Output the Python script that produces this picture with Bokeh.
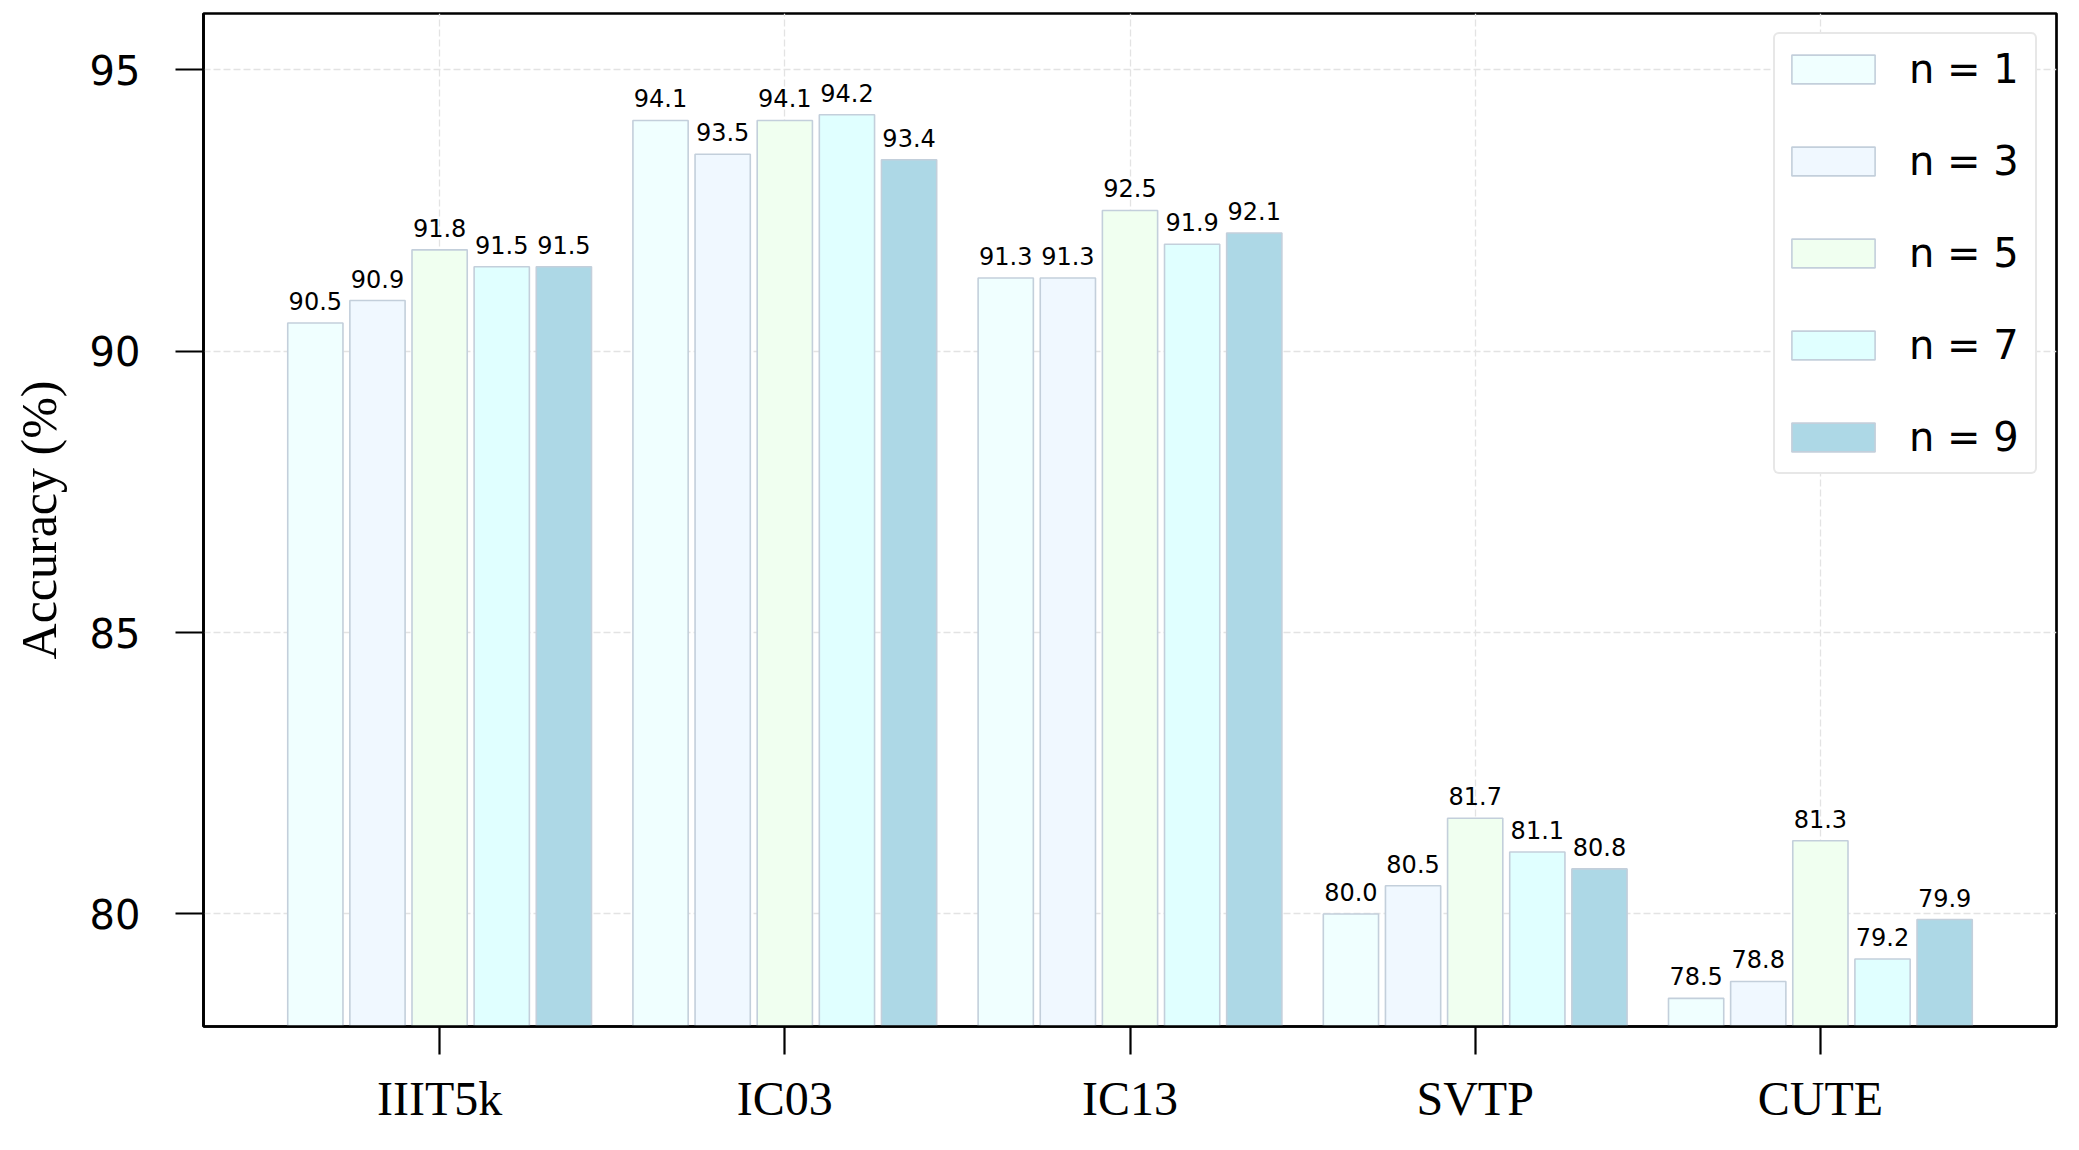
from bokeh.plotting import figure
from bokeh.models import ColumnDataSource, Range1d, FixedTicker, Legend, LegendItem
from bokeh.transform import dodge
from bokeh.core.properties import value
from bokeh.embed import file_html
from bokeh.resources import INLINE

datasets = ["IIIT5k", "IC03", "IC13", "SVTP", "CUTE"]
series_names = ["n = 1", "n = 3", "n = 5", "n = 7", "n = 9"]
n1 = [90.5, 94.1, 91.3, 80.0, 78.5]
n3 = [90.9, 93.5, 91.3, 80.5, 78.8]
n5 = [91.8, 94.1, 92.5, 81.7, 81.3]
n7 = [91.5, 94.2, 91.9, 81.1, 79.2]
n9 = [91.5, 93.4, 92.1, 80.8, 79.9]
y_ticks = [80, 85, 90, 95]

series = [n1, n3, n5, n7, n9]
colors = ["#F0FFFF", "#F0F8FF", "#F0FFF0", "#E0FFFF", "#ADD8E6"]
offsets = [-0.36, -0.18, 0.0, 0.18, 0.36]
bar_w = 0.16

data = {"idx": list(range(len(datasets)))}
for k, s in enumerate(series):
    data[f"s{k}"] = s
    data[f"l{k}"] = [f"{v:.1f}" for v in s]
source = ColumnDataSource(data)

p = figure(width=2063, height=1134, output_backend="svg", toolbar_location=None,
           x_range=Range1d(-0.684, 4.684), y_range=Range1d(78, 96),
           min_border_left=203, min_border_right=7, min_border_top=13, min_border_bottom=108)

items = []
for k, s in enumerate(series):
    r = p.vbar(x=dodge("idx", offsets[k], range=p.x_range), top=f"s{k}", bottom=0, width=bar_w,
               source=source, fill_color=colors[k], line_color="#C3CFDB", line_width=1.6)
    items.append(LegendItem(label=series_names[k], renderers=[r]))
    p.text(x=dodge("idx", offsets[k], range=p.x_range), y=f"s{k}", text=f"l{k}", source=source,
           text_align="center", text_baseline="bottom", y_offset=-13,
           text_font=value("DejaVu Sans"), text_font_size="24px", text_color="black")

# axes
p.xaxis.ticker = FixedTicker(ticks=list(range(len(datasets))))
p.xaxis.major_label_overrides = {i: d for i, d in enumerate(datasets)}
p.yaxis.ticker = FixedTicker(ticks=y_ticks)
p.yaxis.axis_label = "Accuracy (%)"
p.yaxis.axis_label_text_font = "Liberation Serif"
p.yaxis.axis_label_text_font_size = "50px"
p.yaxis.axis_label_text_font_style = "normal"
p.yaxis.axis_label_text_color = "black"
p.yaxis.axis_label_standoff = 20
p.yaxis.major_label_text_font = "DejaVu Sans"
p.yaxis.major_label_text_font_size = "40px"
p.yaxis.major_label_standoff = 35
p.xaxis.major_label_text_font = "Liberation Serif"
p.xaxis.major_label_text_font_size = "48px"
p.xaxis.major_label_standoff = 17
for ax in (p.xaxis, p.yaxis):
    ax.major_tick_out = 28
    ax.major_tick_in = 0
    ax.minor_tick_line_color = None
    ax.major_tick_line_width = 2.2
    ax.major_tick_line_color = "black"
    ax.axis_line_width = 2.7
    ax.axis_line_color = "black"
    ax.major_label_text_color = "black"

p.outline_line_color = "black"
p.outline_line_width = 2.7
p.outline_line_alpha = 1.0

for g in (p.xgrid, p.ygrid):
    g.grid_line_color = "#E3E3E3"
    g.grid_line_dash = "7 3"
    g.grid_line_width = 1.3
p.xgrid.ticker = FixedTicker(ticks=list(range(len(datasets))))
p.ygrid.ticker = FixedTicker(ticks=y_ticks)

legend = Legend(items=items, location="top_right", margin=19,
                glyph_width=104, glyph_height=36, label_standoff=24,
                label_text_font="DejaVu Sans", label_text_font_size="40px",
                label_text_color="black", label_width=120, label_height=58,
                spacing=34, padding=6,
                border_line_color="#D0D0D0", border_line_width=2, border_radius=6,
                background_fill_alpha=1.0)
p.add_layout(legend)

open("out.html", "w").write(file_html(p, INLINE))
